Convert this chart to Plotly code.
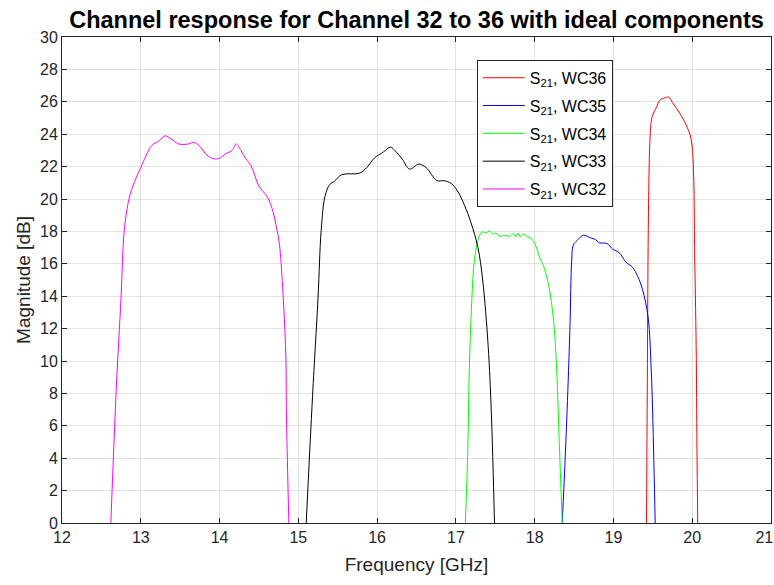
import plotly.graph_objects as go

# ---- data ----
f_wc36 = [19.42, 19.43, 19.44, 19.45, 19.46, 19.48, 19.50, 19.55, 19.58, 19.62, 19.66, 19.70, 19.75, 19.80, 19.84, 19.90, 19.97, 20.00, 20.02, 20.03, 20.05, 20.06, 20.07]
s21_wc36 = [0.0, 8.8, 17.0, 21.1, 23.2, 24.8, 25.2, 25.7, 26.05, 26.2, 26.25, 26.3, 25.95, 25.6, 25.3, 24.8, 24.0, 23.2, 21.1, 17.0, 10.9, 4.7, 0.0]

f_wc35 = [18.35, 18.39, 18.43, 18.45, 18.47, 18.49, 18.54, 18.62, 18.71, 18.77, 18.82, 18.92, 18.99, 19.07, 19.16, 19.24, 19.31, 19.37, 19.44, 19.48, 19.50, 19.53]
s21_wc35 = [0.0, 4.3, 9.4, 12.5, 16.2, 17.15, 17.45, 17.76, 17.6, 17.5, 17.3, 17.25, 16.9, 16.7, 16.1, 15.8, 15.2, 14.4, 12.7, 9.4, 6.4, 0.0]

f_wc34 = [17.12, 17.15, 17.17, 17.20, 17.23, 17.26, 17.30, 17.34, 17.38, 17.43, 17.47, 17.50, 17.56, 17.62, 17.68, 17.73, 17.76, 17.79, 17.82, 17.85, 17.90, 17.96, 18.01, 18.07, 18.11, 18.18, 18.24, 18.28, 18.31, 18.35]
s21_wc34 = [0.0, 4.3, 9.4, 13.55, 16.0, 17.0, 17.76, 17.97, 17.9, 18.03, 17.82, 17.9, 17.7, 17.76, 17.7, 17.86, 17.66, 17.9, 17.66, 17.86, 17.7, 17.55, 17.15, 16.3, 15.9, 14.6, 12.5, 9.4, 5.3, 0.0]

f_wc33 = [15.10, 15.18, 15.25, 15.29, 15.34, 15.40, 15.46, 15.55, 15.78, 15.87, 15.97, 16.08, 16.17, 16.23, 16.32, 16.41, 16.53, 16.62, 16.76, 16.85, 16.94, 17.02, 17.11, 17.19, 17.28, 17.34, 17.41, 17.45, 17.49]
s21_wc33 = [0.0, 7.8, 13.9, 18.05, 20.2, 20.9, 21.1, 21.5, 21.6, 21.95, 22.55, 22.9, 23.2, 22.97, 22.46, 21.85, 22.15, 21.95, 21.13, 21.13, 20.96, 20.5, 19.6, 18.56, 17.0, 15.0, 10.9, 6.8, 0.0]

f_wc32 = [12.62, 12.69, 12.75, 12.79, 12.85, 12.90, 13.00, 13.14, 13.22, 13.31, 13.39, 13.48, 13.61, 13.67, 13.76, 13.82, 13.91, 13.99, 14.08, 14.16, 14.21, 14.27, 14.33, 14.40, 14.50, 14.61, 14.68, 14.72, 14.76, 14.80, 14.84, 14.85, 14.88]
s21_wc32 = [0.0, 8.4, 13.95, 18.05, 20.0, 20.8, 21.95, 23.3, 23.55, 23.9, 23.7, 23.4, 23.4, 23.5, 23.2, 22.8, 22.5, 22.5, 22.8, 23.0, 23.4, 23.0, 22.5, 22.05, 20.8, 20.1, 19.2, 18.3, 17.2, 14.6, 10.5, 6.4, 0.0]

series = [
    ("WC36", f_wc36, s21_wc36, "#ff0000"),
    ("WC35", f_wc35, s21_wc35, "#0000ff"),
    ("WC34", f_wc34, s21_wc34, "#00ff00"),
    ("WC33", f_wc33, s21_wc33, "#000000"),
    ("WC32", f_wc32, s21_wc32, "#ff00ff"),
]

x_ticks = list(range(12, 22))
x_tick_labels = ["12", "13", "14", "15", "16", "17", "18", "19", "20", "21\u00a0\u00a0\u00a0"]
y_ticks = list(range(0, 31, 2))

fig = go.Figure()
for name, fx, sy, col in series:
    fig.add_trace(go.Scatter(
        x=fx, y=sy, mode="lines", name="S<sub>21</sub>, " + name,
        legendgroup=name,
        line=dict(color=col, width=1), line_shape="spline",
    ))

axis_common = dict(
    showline=True, linecolor="#262626", linewidth=1, mirror="ticks",
    ticks="inside", ticklen=5, tickcolor="#262626",
    showgrid=True, gridcolor="#e3e3e3", gridwidth=1, zeroline=False,
    tickfont=dict(size=16, color="#262626"),
    ticklabeloverflow="allow", automargin=False,
)

fig.update_layout(
    width=774, height=585,
    margin=dict(l=62, r=3, t=37, b=62, autoexpand=False),
    paper_bgcolor="white", plot_bgcolor="white",
    font=dict(family="Liberation Sans, Arial, sans-serif", color="#262626"),
    title=dict(text="<b>Channel response for Channel 32 to 36 with ideal components</b>",
               x=0.5, xref="paper", xanchor="center", y=0.967, yref="container", yanchor="middle",
               font=dict(size=23.5, color="#000000")),
    xaxis=dict(range=[12, 21], tickvals=x_ticks, ticktext=x_tick_labels,
               title=dict(text="Frequency [GHz]", font=dict(size=19), standoff=12), **axis_common),
    yaxis=dict(range=[0, 30], tickvals=y_ticks, title=dict(text="Magnitude [dB]", font=dict(size=19), standoff=4), **axis_common),
    legend=dict(x=0.585, y=0.953, xanchor="left", yanchor="top",
                bgcolor="white", bordercolor="#262626", borderwidth=1,
                font=dict(size=16, color="#000000"), tracegroupgap=4,
                itemwidth=42, traceorder="grouped"),
    showlegend=True,
)

fig.write_html("out.html")
